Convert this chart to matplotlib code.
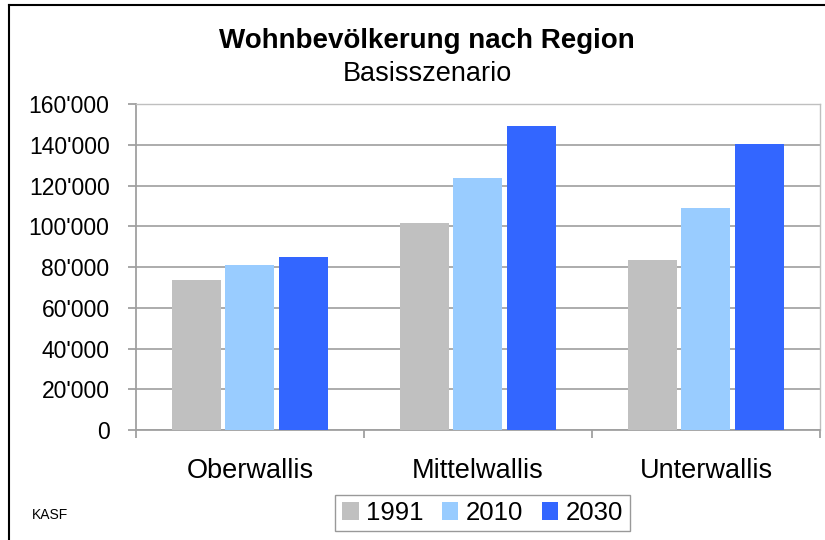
import numpy as np
import matplotlib.pyplot as plt
from matplotlib.ticker import FuncFormatter, FixedLocator
from matplotlib.lines import Line2D

plt.rcParams['font.family'] = ['Liberation Sans', 'DejaVu Sans']

regions = ['Oberwallis', 'Mittelwallis', 'Unterwallis']
years = ['1991', '2010', '2030']
pop_1991 = [73800, 101800, 83200]
pop_2010 = [81200, 123800, 109100]
pop_2030 = [85100, 149200, 140300]
colors = ['#C0C0C0', '#99CCFF', '#3366FF']

fig = plt.figure(figsize=(8.25, 5.4), dpi=100)
ax = fig.add_axes([0.1648, 0.2037, 0.8291, 0.6037])

x = np.arange(len(regions))
width = 0.215
offset = 0.235
for i, (vals, lab) in enumerate(zip([pop_1991, pop_2010, pop_2030], years)):
    ax.bar(x + (i - 1) * offset, vals, width, color=colors[i], label=lab, zorder=3)

ax.set_xlim(-0.5, 2.5)
ax.set_ylim(0, 160000)
ax.set_yticks(np.arange(0, 160001, 20000))
ax.yaxis.set_major_formatter(FuncFormatter(lambda v, p: f"{int(v):,}".replace(',', "'")))
ax.grid(axis='y', color='#A6A6A6', linewidth=1.3, zorder=0)

grey = '#A0A0A0'
for s in ['top', 'right']:
    ax.spines[s].set_color('#BFBFBF')
    ax.spines[s].set_linewidth(1.0)
for s in ['left', 'bottom']:
    ax.spines[s].set_color(grey)
    ax.spines[s].set_linewidth(1.3)

ax.set_xticks(x)
ax.set_xticklabels(regions)
ax.xaxis.set_minor_locator(FixedLocator([-0.5, 0.5, 1.5, 2.5]))
ax.tick_params(axis='x', which='major', length=0, pad=20, labelsize=19.5)
ax.tick_params(axis='x', which='minor', length=6, width=1.3, color=grey, direction='out')
ax.tick_params(axis='y', length=6, width=1.3, color=grey, pad=13, labelsize=16.5)

fig.text(0.518, 0.924, 'Wohnbevölkerung nach Region', ha='center', va='center',
         fontsize=20, fontweight='bold')
fig.text(0.518, 0.863, 'Basisszenario', ha='center', va='center', fontsize=19.5)
fig.text(0.039, 0.046, 'KASF', ha='left', va='center', fontsize=10)

fig.legend(loc='center', bbox_to_anchor=(0.585, 0.05), ncol=3, fontsize=18.5,
           frameon=True, fancybox=False, edgecolor='#999999', framealpha=1,
           handlelength=0.65, handleheight=0.7, handletextpad=0.3,
           columnspacing=0.7, borderpad=0.25, borderaxespad=0)

# outer frame (left and top edges)
fig.add_artist(Line2D([0.0105, 0.0105], [0, 0.991], color='black', linewidth=1.5,
                      transform=fig.transFigure))
fig.add_artist(Line2D([0.0105, 1], [0.991, 0.991], color='black', linewidth=1.5,
                      transform=fig.transFigure))

fig.savefig('out.png', dpi=100)
